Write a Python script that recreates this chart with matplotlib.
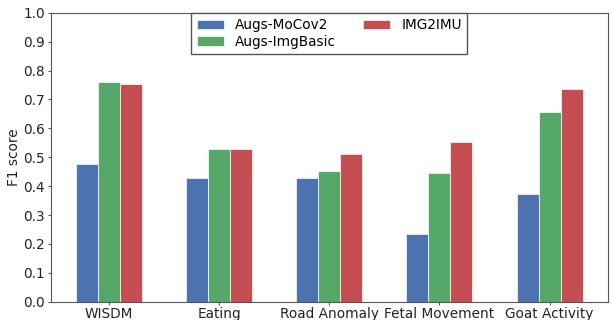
import matplotlib.pyplot as plt
import numpy as np

categories = ['WISDM', 'Eating', 'Road Anomaly', 'Fetal Movement', 'Goat Activity']
mocov2 = [0.477, 0.428, 0.427, 0.235, 0.374]
imgbasic = [0.760, 0.527, 0.454, 0.447, 0.656]
img2imu = [0.755, 0.529, 0.511, 0.552, 0.736]

x = np.arange(len(categories))
w = 0.2

fig, ax = plt.subplots(figsize=(6.11, 3.2), dpi=100)
ax.bar(x - w, mocov2, w, color='#4C72B0', edgecolor='white', linewidth=0.5, label='Augs-MoCov2')
ax.bar(x, imgbasic, w, color='#55A868', edgecolor='white', linewidth=0.5, label='Augs-ImgBasic')
ax.bar(x + w, img2imu, w, color='#C44E52', edgecolor='white', linewidth=0.5, label='IMG2IMU')

ax.set_ylim(0, 1.0)
ax.set_yticks(np.arange(0, 1.01, 0.1))
ax.set_xticks(x)
ax.set_xticklabels(categories)
ax.tick_params(labelsize=9.8, length=2.5, pad=1.5, color='#555555', labelcolor='#222222')
ax.set_ylabel('F1 score', fontsize=9.8, color='#222222', labelpad=1.5)
for s in ax.spines.values():
    s.set_color('#555555')

leg = ax.legend(loc='upper center', ncol=2, fontsize=9.8, borderaxespad=0,
                fancybox=False, framealpha=1, labelspacing=0.2)
leg.get_frame().set_edgecolor('#555555')

plt.subplots_adjust(left=0.083, right=0.995, top=0.96, bottom=0.057)
plt.savefig('out.png')
